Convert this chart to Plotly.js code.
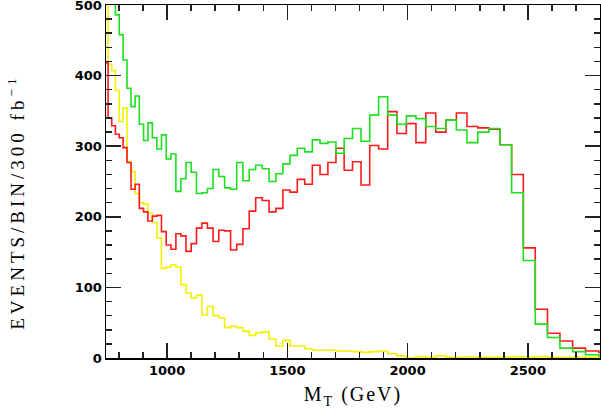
<!DOCTYPE html>
<html>
<head>
<meta charset="utf-8">
<script src="https://cdn.plot.ly/plotly-3.0.1.min.js"></script>
<style>
    html, body { margin: 0; padding: 0; background: #fff; }
    #chart { width: 601px; height: 409px; }
    .annotation-text { letter-spacing: 4px; }
    .xtitle { letter-spacing: 2px; }
</style>
</head>
<body>
<div id="chart"></div>
<script>
// bin edges in M_T (GeV), roughly equal steps in log(M_T)
const binEdges = [739.9, 754.7, 769.8, 785.2, 801.0, 817.0, 833.4, 850.1, 867.1, 884.5, 902.2,
    920.3, 938.7, 957.5, 976.7, 996.3, 1016.2, 1036.6, 1057.4, 1078.6, 1100.2,
    1122.2, 1144.7, 1167.6, 1191.0, 1214.9, 1239.2, 1264.0, 1289.4, 1315.2, 1341.5,
    1368.4, 1395.8, 1423.8, 1452.3, 1481.4, 1511.1, 1541.4, 1572.3, 1603.8, 1635.9,
    1668.6, 1702.1, 1736.2, 1771.0, 1806.4, 1842.6, 1879.6, 1917.2, 1955.6, 1994.8,
    2034.8, 2075.5, 2117.1, 2159.5, 2202.8, 2246.9, 2291.9, 2337.9, 2384.7, 2432.5,
    2481.2, 2530.9, 2581.6, 2633.4, 2686.1, 2739.9, 2794.8, 2850.8];

const redCounts = [418,
    340, 329, 317, 312, 298, 277, 239, 246, 212, 207,
    194, 201, 202, 179, 160, 154, 176, 173, 151, 162,
    184, 191, 184, 165, 181, 180, 153, 161, 183, 208,
    227, 223, 207, 212, 238, 235, 253, 246, 273, 260,
    277, 297, 266, 278, 245, 301, 296, 349, 318, 332,
    305, 347, 320, 337, 347, 328, 326, 324, 302, 260,
    156, 69, 35, 24, 14, 10, 8];

const greenCounts = [620,
    580, 530, 486, 458, 422, 382, 356, 371, 331, 308,
    333, 312, 296, 316, 282, 289, 236, 254, 277, 263,
    233, 234, 240, 267, 257, 241, 239, 277, 251, 267,
    273, 268, 250, 261, 275, 287, 297, 292, 309, 304,
    306, 290, 311, 325, 307, 344, 370, 344, 331, 343,
    339, 328, 325, 337, 323, 305, 320, 325, 302, 234,
    138, 48, 29, 14, 9, 4.5, 3];

const yellowCounts = [560,
    416, 407, 379, 335, 354, 278, 264, 233, 220, 218,
    205, 192, 170, 127, 129, 132, 129, 104, 92, 85,
    89, 61, 73, 60, 57, 43, 45, 43, 38, 32,
    36, 37, 27, 17, 25, 17, 17, 13, 11, 11,
    11, 10, 10, 9, 8, 9, 10, 6, 3, 0,
    2, 1, 3, 1, 1, 1.5, 1, 1, 1.5, 2,
    1.5, 2, 1, 1, 1.5, 1, 1];

const xTicks = [1000, 1500, 2000, 2500];
const yTicks = [0, 100, 200, 300, 400, 500];

const el = (id) => document.getElementById(id);

function stepTrace(counts, color) {
    // repeat the last count so the final bin gets its top edge
    return {
        type: "scatter",
        mode: "lines",
        x: binEdges,
        y: counts.concat([counts[counts.length - 1]]),
        line: { shape: "hv", color: color, width: 1.6 },
        hoverinfo: "skip",
        showlegend: false
    };
}

const tickFont = { family: "DejaVu Sans, Arial, sans-serif", size: 13, color: "#000", weight: "bold" };

function axisStyle(extra) {
    return Object.assign({
        showgrid: false,
        zeroline: false,
        showline: true,
        linecolor: "#000",
        linewidth: 1.5,
        mirror: "allticks",
        ticks: "inside",
        ticklen: 15,
        tickwidth: 1.5,
        tickcolor: "#222",
        tickfont: tickFont,
        ticklabeloverflow: "allow"
    }, extra);
}

const layout = {
    width: 601,
    height: 409,
    margin: { l: 106, r: 1, t: 5, b: 51 },
    paper_bgcolor: "#fff",
    plot_bgcolor: "#fff",
    xaxis: axisStyle({
        range: [746, 2800],
        tickvals: xTicks,
        ticktext: xTicks.map(String),
        minor: { dtick: 100, tick0: 0, ticks: "inside", ticklen: 6, tickwidth: 1.5, tickcolor: "#222" },
        title: {
            text: "M<sub>T</sub> (GeV)",
            font: { family: "Liberation Serif, Times New Roman, serif", size: 20, color: "#000" },
            standoff: 10
        }
    }),
    yaxis: axisStyle({
        range: [0, 500],
        tickvals: yTicks,
        ticktext: yTicks.map(String),
        minor: { dtick: 20, tick0: 0, ticks: "inside", ticklen: 6, tickwidth: 1.5, tickcolor: "#222" }
    }),
    annotations: [{
        text: "EVENTS/BIN/300 fb<sup>−1</sup>",
        textangle: -90,
        xref: "paper",
        yref: "paper",
        x: -0.182,
        y: 0.44,
        xanchor: "center",
        yanchor: "middle",
        showarrow: false,
        font: { family: "Liberation Serif, Times New Roman, serif", size: 19, color: "#000" }
    }]
};

Plotly.newPlot(el("chart"), [
    stepTrace(yellowCounts, "#f2f200"),
    stepTrace(redCounts, "#ff1a1a"),
    stepTrace(greenCounts, "#1ee01e")
], layout, { displayModeBar: false, staticPlot: true });
</script>
</body>
</html>
